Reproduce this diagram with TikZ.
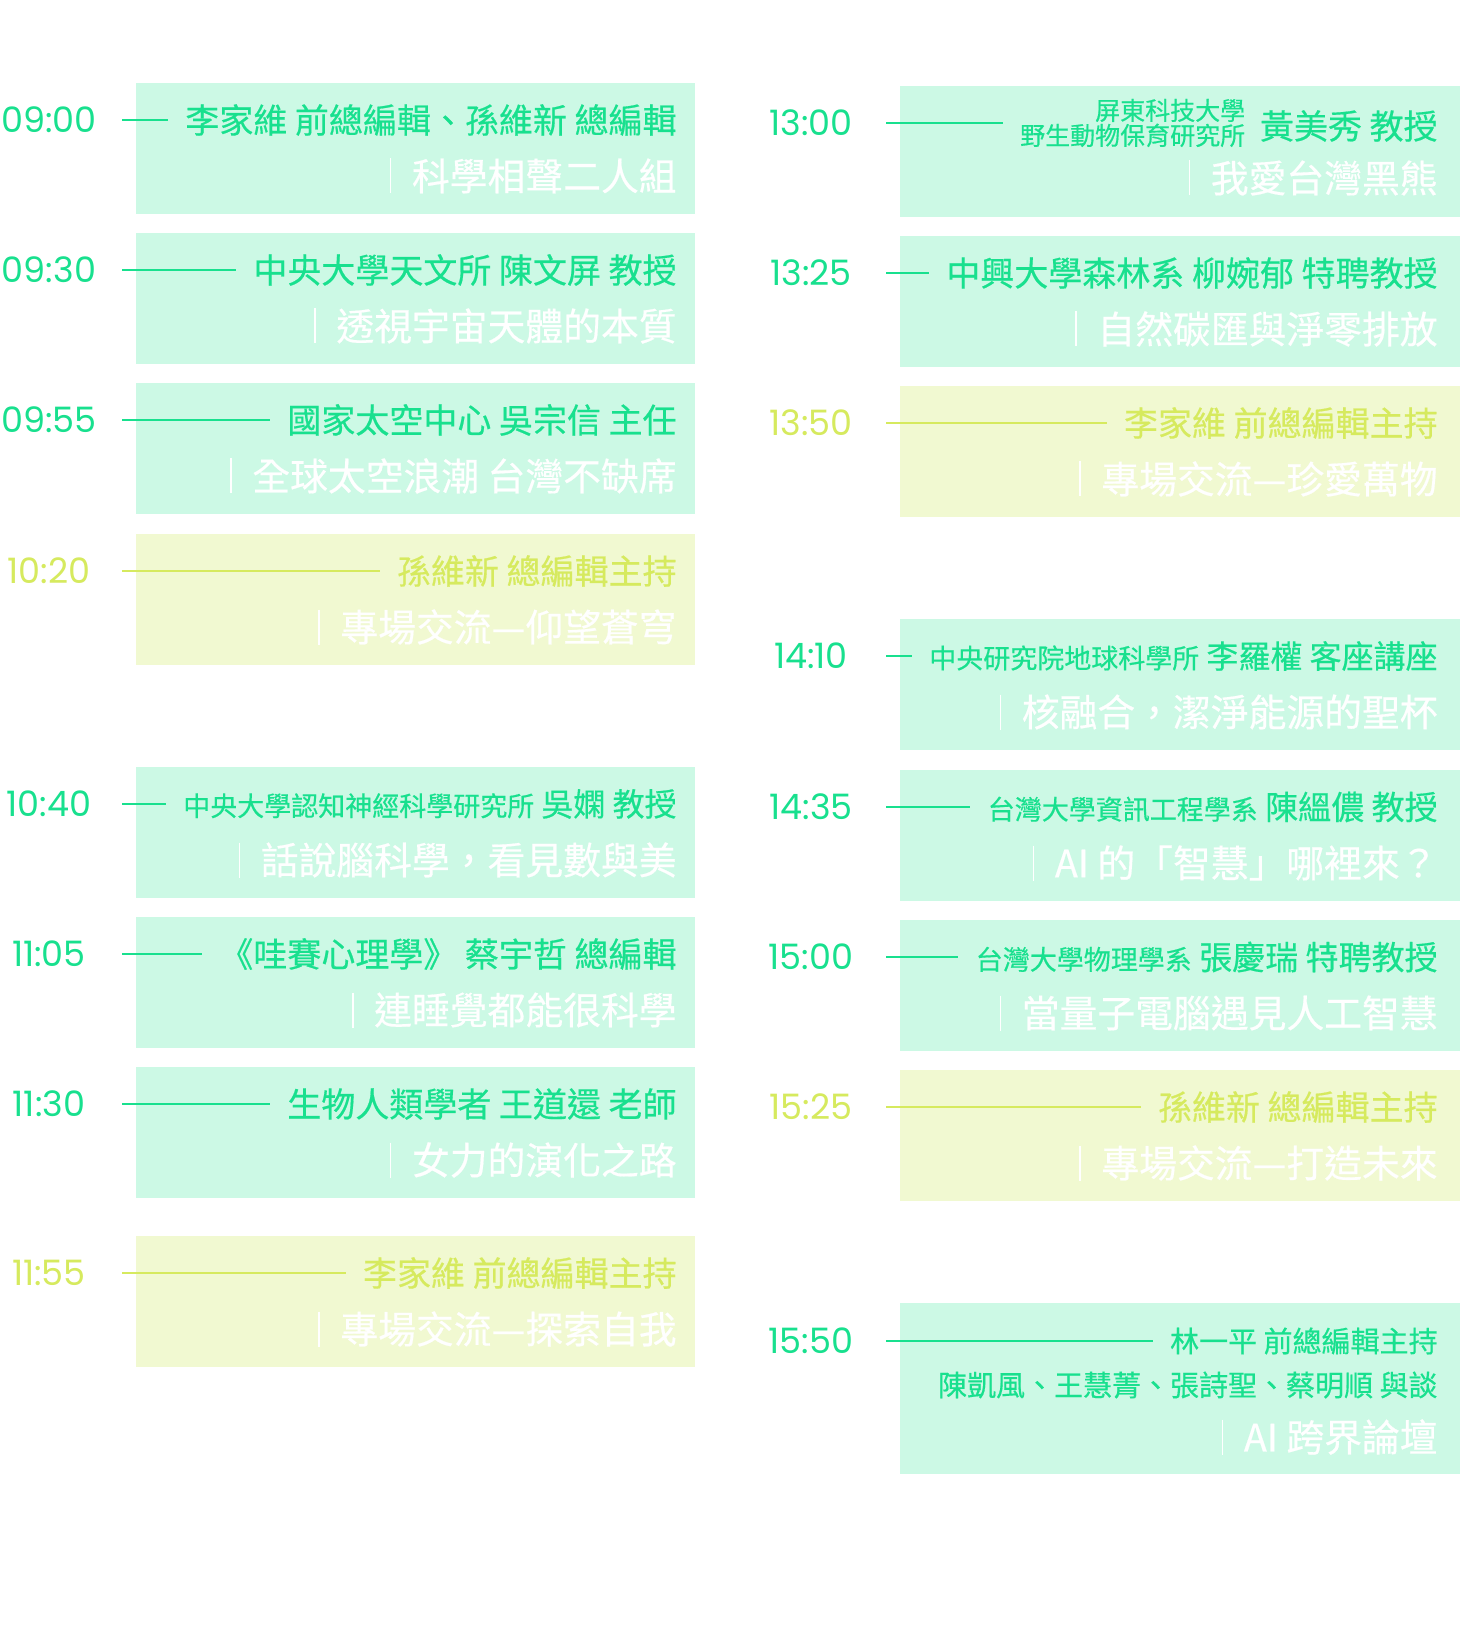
\documentclass[tikz,border=0pt]{standalone}
\usepackage{fontspec}
\setmainfont{Noto Sans CJK TC}[FakeBold=0.5]
\newfontfamily\timefont{Poppins}

\definecolor{tgreen}{HTML}{18E08E}
\definecolor{mint}{HTML}{CCF9E5}
\definecolor{tyellow}{HTML}{D6EA5E}
\definecolor{pale}{HTML}{F1F9D1}

\newcommand{\org}[1]{{\fontsize{13.5pt}{13.5pt}\selectfont #1}}

\tikzset{
  tm/.style={inner sep=0pt, font=\fontsize{17.5pt}{17.5pt}\timefont},
  who/.style={anchor=east, inner sep=0pt, font=\fontsize{17pt}{17pt}\selectfont},
  talk/.style={anchor=east, inner sep=0pt, text=white, font=\fontsize{18.9pt}{18.9pt}\selectfont},
  tline/.style={line width=1pt, shorten >=8.5pt},
  bar/.style={draw=white, line width=0.8pt},
}

\begin{document}
\begin{tikzpicture}[x=0.5pt,y=-0.5pt]
    \useasboundingbox[fill=white] (0,0) rectangle (1460,1641);

    % boxes
    \fill[mint] (136,83) rectangle (695,214);
    \fill[mint] (136,233) rectangle (695,364);
    \fill[mint] (136,383) rectangle (695,514);
    \fill[pale] (136,534) rectangle (695,665);
    \fill[mint] (136,767) rectangle (695,898);
    \fill[mint] (136,917) rectangle (695,1048);
    \fill[mint] (136,1067) rectangle (695,1198);
    \fill[pale] (136,1236) rectangle (695,1367);

    \fill[mint] (900,86) rectangle (1460,217);
    \fill[mint] (900,236) rectangle (1460,367);
    \fill[pale] (900,386) rectangle (1460,517);
    \fill[mint] (900,619) rectangle (1460,750);
    \fill[mint] (900,770) rectangle (1460,901);
    \fill[mint] (900,920) rectangle (1460,1051);
    \fill[pale] (900,1070) rectangle (1460,1201);
    \fill[mint] (900,1303) rectangle (1460,1474);

    % morning
    \node[tm, text=tgreen](t1) at (49,120){09:00};
    \coordinate(s1) at (122,120);
    \node[who, text=tgreen](w1) at (677,120){李家維 前總編輯、孫維新 總編輯};
    \node[talk](k1) at (677,176){科學相聲二人組};
    \draw[tline, color=tgreen] (s1) -- (w1.west);
    \draw[bar] ([xshift=-10.5pt]k1.west) ++(0,-17.5) -- ++(0,35);

    \node[tm, text=tgreen](t2) at (49,270){09:30};
    \coordinate(s2) at (122,270);
    \node[who, text=tgreen](w2) at (677,270){中央大學天文所 陳文屏 教授};
    \node[talk](k2) at (677,326){透視宇宙天體的本質};
    \draw[tline, color=tgreen] (s2) -- (w2.west);
    \draw[bar] ([xshift=-10.5pt]k2.west) ++(0,-17.5) -- ++(0,35);

    \node[tm, text=tgreen](t3) at (49,420){09:55};
    \coordinate(s3) at (122,420);
    \node[who, text=tgreen](w3) at (677,420){國家太空中心 吳宗信 主任};
    \node[talk](k3) at (677,476){全球太空浪潮 台灣不缺席};
    \draw[tline, color=tgreen] (s3) -- (w3.west);
    \draw[bar] ([xshift=-10.5pt]k3.west) ++(0,-17.5) -- ++(0,35);

    \node[tm, text=tyellow](t4) at (49,571){10:20};
    \coordinate(s4) at (122,571);
    \node[who, text=tyellow](w4) at (677,571){孫維新 總編輯主持};
    \node[talk](k4) at (677,627){專場交流—仰望蒼穹};
    \draw[tline, color=tyellow] (s4) -- (w4.west);
    \draw[bar] ([xshift=-10.5pt]k4.west) ++(0,-17.5) -- ++(0,35);

    \node[tm, text=tgreen](t5) at (49,804){10:40};
    \coordinate(s5) at (122,804);
    \node[who, text=tgreen, font=\fontsize{16pt}{16pt}\selectfont](w5) at (677,804){\org{中央大學認知神經科學研究所} 吳嫻 教授};
    \node[talk](k5) at (677,860){話說腦科學，看見數與美};
    \draw[tline, color=tgreen] (s5) -- (w5.west);
    \draw[bar] ([xshift=-10.5pt]k5.west) ++(0,-17.5) -- ++(0,35);

    \node[tm, text=tgreen](t6) at (49,954){11:05};
    \coordinate(s6) at (122,954);
    \node[who, text=tgreen](w6) at (677,954){《哇賽心理學》 蔡宇哲 總編輯};
    \node[talk](k6) at (677,1010){連睡覺都能很科學};
    \draw[tline, color=tgreen] (s6) -- (w6.west);
    \draw[bar] ([xshift=-10.5pt]k6.west) ++(0,-17.5) -- ++(0,35);

    \node[tm, text=tgreen](t7) at (49,1104){11:30};
    \coordinate(s7) at (122,1104);
    \node[who, text=tgreen](w7) at (677,1104){生物人類學者 王道還 老師};
    \node[talk](k7) at (677,1160){女力的演化之路};
    \draw[tline, color=tgreen] (s7) -- (w7.west);
    \draw[bar] ([xshift=-10.5pt]k7.west) ++(0,-17.5) -- ++(0,35);

    \node[tm, text=tyellow](t8) at (49,1273){11:55};
    \coordinate(s8) at (122,1273);
    \node[who, text=tyellow](w8) at (677,1273){李家維 前總編輯主持};
    \node[talk](k8) at (677,1329){專場交流—探索自我};
    \draw[tline, color=tyellow] (s8) -- (w8.west);
    \draw[bar] ([xshift=-10.5pt]k8.west) ++(0,-17.5) -- ++(0,35);

    % afternoon
    \node[tm, text=tgreen](t9) at (811,123){13:00};
    \coordinate(s9) at (886,123);
    \node[who, text=tgreen](w9) at (1438,126){黃美秀 教授};
    \node[anchor=east, inner sep=0pt, text=tgreen, align=right, font=\fontsize{12.5pt}{12.5pt}\selectfont](o9) at ([xshift=-7pt]w9.west |- s9){屏東科技大學\\野生動物保育研究所};
    \node[talk](k9) at (1438,178){我愛台灣黑熊};
    \draw[tline, color=tgreen] (s9) -- (o9.west);
    \draw[bar] ([xshift=-10.5pt]k9.west) ++(0,-17.5) -- ++(0,35);

    \node[tm, text=tgreen](t10) at (811,273){13:25};
    \coordinate(s10) at (886,273);
    \node[who, text=tgreen](w10) at (1438,273){中興大學森林系 柳婉郁 特聘教授};
    \node[talk](k10) at (1438,329){自然碳匯與淨零排放};
    \draw[tline, color=tgreen] (s10) -- (w10.west);
    \draw[bar] ([xshift=-10.5pt]k10.west) ++(0,-17.5) -- ++(0,35);

    \node[tm, text=tyellow](t11) at (811,423){13:50};
    \coordinate(s11) at (886,423);
    \node[who, text=tyellow](w11) at (1438,423){李家維 前總編輯主持};
    \node[talk](k11) at (1438,479){專場交流—珍愛萬物};
    \draw[tline, color=tyellow] (s11) -- (w11.west);
    \draw[bar] ([xshift=-10.5pt]k11.west) ++(0,-17.5) -- ++(0,35);

    \node[tm, text=tgreen](t12) at (811,656){14:10};
    \coordinate(s12) at (886,656);
    \node[who, text=tgreen, font=\fontsize{16pt}{16pt}\selectfont](w12) at (1438,656){\org{中央研究院地球科學所} 李羅權 客座講座};
    \node[talk](k12) at (1438,712){核融合，潔淨能源的聖杯};
    \draw[tline, color=tgreen] (s12) -- (w12.west);
    \draw[bar] ([xshift=-10.5pt]k12.west) ++(0,-17.5) -- ++(0,35);

    \node[tm, text=tgreen](t13) at (811,807){14:35};
    \coordinate(s13) at (886,807);
    \node[who, text=tgreen, font=\fontsize{16.5pt}{16.5pt}\selectfont](w13) at (1438,807){\org{台灣大學資訊工程學系} 陳縕儂 教授};
    \node[talk](k13) at (1438,863){AI 的「智慧」哪裡來？};
    \draw[tline, color=tgreen] (s13) -- (w13.west);
    \draw[bar] ([xshift=-10.5pt]k13.west) ++(0,-17.5) -- ++(0,35);

    \node[tm, text=tgreen](t14) at (811,957){15:00};
    \coordinate(s14) at (886,957);
    \node[who, text=tgreen, font=\fontsize{16.5pt}{16.5pt}\selectfont](w14) at (1438,957){\org{台灣大學物理學系} 張慶瑞 特聘教授};
    \node[talk](k14) at (1438,1013){當量子電腦遇見人工智慧};
    \draw[tline, color=tgreen] (s14) -- (w14.west);
    \draw[bar] ([xshift=-10.5pt]k14.west) ++(0,-17.5) -- ++(0,35);

    \node[tm, text=tyellow](t15) at (811,1107){15:25};
    \coordinate(s15) at (886,1107);
    \node[who, text=tyellow](w15) at (1438,1107){孫維新 總編輯主持};
    \node[talk](k15) at (1438,1163){專場交流—打造未來};
    \draw[tline, color=tyellow] (s15) -- (w15.west);
    \draw[bar] ([xshift=-10.5pt]k15.west) ++(0,-17.5) -- ++(0,35);

    \node[tm, text=tgreen](t16) at (811,1341){15:50};
    \coordinate(s16) at (886,1341);
    \node[who, text=tgreen, font=\fontsize{14.5pt}{14.5pt}\selectfont](w16) at (1438,1341){林一平 前總編輯主持};
    \node[who, text=tgreen, font=\fontsize{14.5pt}{14.5pt}\selectfont](g16) at (1438,1385){陳凱風、王慧菁、張詩聖、蔡明順 與談};
    \node[talk](k16) at (1438,1437){AI 跨界論壇};
    \draw[tline, color=tgreen] (s16) -- (w16.west);
    \draw[bar] ([xshift=-10.5pt]k16.west) ++(0,-17.5) -- ++(0,35);

  \end{tikzpicture}
\end{document}
